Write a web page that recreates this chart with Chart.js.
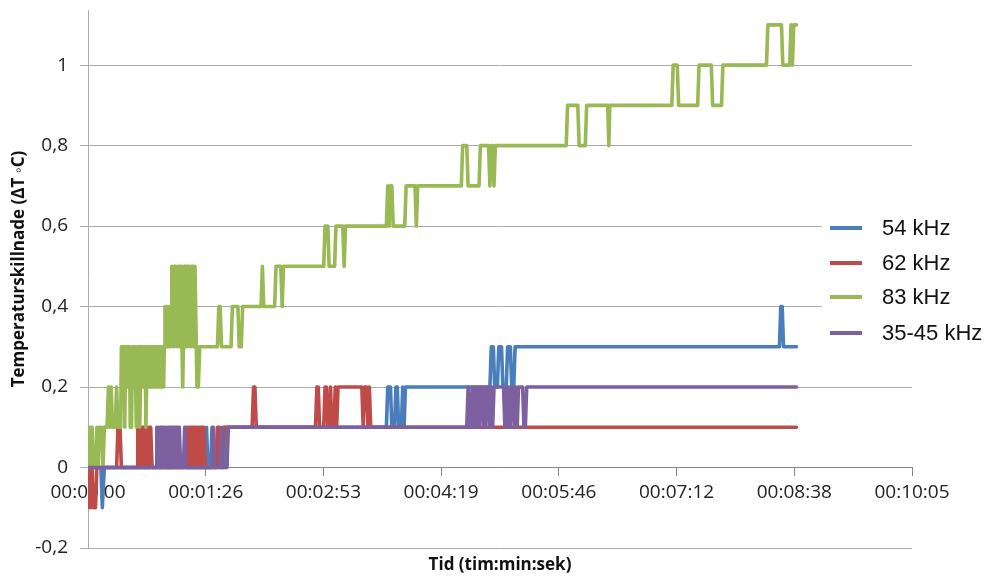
<!DOCTYPE html>
<html lang="sv">
<head>
<meta charset="UTF-8">
<title>Temperaturskillnad</title>
<script src="https://cdn.jsdelivr.net/npm/chart.js"></script>
<style>
  body { margin: 0; background: #fff; }
  #wrap { width: 995px; height: 577px; }
</style>
</head>
<body>
<div id="wrap"><canvas id="tempChart" width="995" height="577"></canvas></div>
<script>
// tick positions (seconds) and labels for the time axis
var xTickVals = [0, 86.4, 172.8, 259.2, 345.6, 432, 518.4, 604.8];
var xTickLabels = ['00:00:00', '00:01:26', '00:02:53', '00:04:19', '00:05:46', '00:07:12', '00:08:38', '00:10:05'];
var yTickVals = [-0.2, 0, 0.2, 0.4, 0.6, 0.8, 1];
var yTickLabels = ['-0,2', '0', '0,2', '0,4', '0,6', '0,8', '1'];

var seriesNames = ['54 kHz', '62 kHz', '83 kHz', '35-45 kHz'];
var seriesColors = ['#4A7EBB', '#BE4B48', '#98B954', '#7D60A0'];

// [time in s, temperature difference]
var s54 = [[0,0],[9.5,0],[10.5,-0.1],[12,0],[86,0],[87,0.1],[88,0],[90,0],[91,0.1],[92,0],[95,0],[96,0.1],[97,0],
  [99.5,0],[100.5,0.1],[101.5,0],[102.5,0.1],[219,0.1],[220,0.2],[222,0.2],[223,0.1],[225,0.1],[226,0.2],[227,0.2],
  [228,0.1],[230,0.1],[231,0.2],[232,0.1],[233,0.2],[295,0.2],[296,0.3],[297.5,0.3],[298.5,0.2],[300.5,0.2],[301.5,0.3],
  [303.5,0.3],[304.5,0.2],[307,0.2],[308,0.3],[310,0.3],[311,0.2],[312.5,0.2],[313.5,0.3],[507.5,0.3],[508.5,0.4],
  [509.5,0.4],[510.5,0.3],[520,0.3]];

var s62 = [[0,-0.1],[1,0],[2,-0.1],[3,0],[4,-0.1],[5.5,-0.1],[6.5,0],[21,0],[22,0.1],[23.5,0.1],[24.5,0],
  [36,0],[36.5,0.1],[37,0],[37.5,0.1],[38,0],[38.5,0.1],[39,0],[39.5,0.1],[40,0.1],[40.5,0],[41,0.1],[41.5,0],[42,0.1],
  [42.5,0],[43,0.1],[43.5,0],[44,0.1],[44.5,0],[45,0.1],[45.5,0],[46,0.1],[47,0],
  [71,0],[71.5,0.1],[72,0],[72.5,0.1],[73,0],[73.5,0.1],[74,0.1],[74.5,0],[75,0.1],[75.5,0],[76,0.1],[76.5,0],[77,0.1],
  [77.5,0],[78,0.1],[78.5,0],[79,0.1],[79.5,0],[80,0.1],[80.5,0],[81,0.1],[81.5,0],[82,0.1],[82.5,0],[83,0.1],[83.5,0],
  [84,0.1],[84.5,0],[85,0.1],[86,0],[94,0],[95,0.1],[96,0.1],[97,0],
  [98.5,0],[99.5,0.1],[120.5,0.1],[121.5,0.2],[122.5,0.2],[123.5,0.1],[167,0.1],[168,0.2],[169,0.2],[170,0.1],[173,0.1],
  [174,0.2],[175,0.2],[176,0.1],[177,0.1],[178,0.2],[179,0.1],[180.5,0.1],[181.5,0.2],[182.5,0.1],[183.5,0.2],[201,0.2],
  [202,0.1],[203,0.2],[204.5,0.2],[205.5,0.1],[206.5,0.2],[207.5,0.1],[520,0.1]];

var s83 = [[0,0],[1,0],[1.5,0.1],[3,0.1],[3.7,0],[5.5,0],[6.5,0.1],[7.5,0],[8.5,0.1],[10,0.1],[11,0],[12,0.1],[14,0.1],
  [15,0.2],[16,0.1],[17,0.2],[18,0.1],[20,0.1],[21,0.2],[22,0.1],
  [24,0.1],[24.5,0.3],[25,0.2],[25.5,0.3],[26,0.2],[26.5,0.3],[27,0.1],[27.5,0.3],[28,0.2],[28.5,0.3],[29,0.2],[29.5,0.3],
  [30,0.2],[30.5,0.3],[31,0.1],[31.5,0.2],[32,0.1],[32.5,0.3],[33,0.2],[33.5,0.3],[34,0.2],[34.5,0.3],[35,0.2],[35.5,0.1],
  [36,0.2],[36.5,0.3],[37,0.2],[37.5,0.3],[38,0.1],[38.5,0.2],[39,0.3],[39.5,0.2],[40,0.3],[40.5,0.2],[41,0.3],[41.5,0.2],
  [42,0.3],[42.5,0.1],[43,0.2],[43.5,0.3],[44,0.2],[44.5,0.3],[45,0.2],[45.5,0.3],[46,0.2],[46.5,0.3],[47,0.2],[47.5,0.3],
  [48,0.2],[48.5,0.3],[49,0.2],[49.5,0.3],[50,0.2],[50.5,0.3],[51,0.2],[51.5,0.3],[52,0.2],[52.5,0.3],[53,0.2],[53.5,0.3],
  [54,0.2],[54.5,0.3],[55,0.3],[55.5,0.2],[56,0.3],
  [56.5,0.4],[57,0.3],[57.5,0.4],[58,0.3],[58.5,0.4],[59,0.3],[59.5,0.4],[60,0.4],[60.5,0.3],[61,0.4],[61.5,0.5],[62,0.4],
  [62.5,0.3],[63,0.4],[63.5,0.5],[64,0.4],[64.5,0.5],[65,0.3],[65.5,0.4],[66,0.5],[66.5,0.4],[67,0.3],[67.5,0.5],[68,0.4],
  [68.5,0.5],[69,0.3],[69.5,0.2],[70,0.3],[70.5,0.5],[71,0.4],[71.5,0.5],[72,0.3],[72.5,0.5],[73,0.4],[73.5,0.5],[74,0.4],
  [74.5,0.5],[75,0.3],[75.5,0.4],[76,0.5],[76.5,0.4],[77,0.5],[77.5,0.3],[78,0.4],[78.5,0.5],[79,0.4],[79.5,0.3],[80,0.2],
  [80.5,0.3],[81,0.2],[82,0.3],
  [95,0.3],[96,0.4],[97,0.4],[98,0.3],[105,0.3],[106,0.4],[110,0.4],[111,0.3],[112.5,0.3],[113.5,0.4],[127,0.4],
  [128,0.5],[129,0.4],[137,0.4],[138,0.5],[141.5,0.5],[142.5,0.4],[143.5,0.5],[173,0.5],[174,0.6],[176,0.6],[177,0.5],
  [181,0.5],[182,0.6],[187,0.6],[188,0.5],[189,0.6],[219,0.6],[220,0.7],[221,0.6],[222,0.7],[223,0.7],[224,0.6],
  [232.5,0.6],[233.5,0.7],[240,0.7],[241,0.6],[242,0.7],[274,0.7],[275,0.8],[278,0.8],[279,0.7],[287,0.7],[288,0.8],
  [294,0.8],[295,0.7],[296,0.8],[297,0.8],[298,0.7],[299,0.8],[351,0.8],[352,0.9],[359.5,0.9],[360.5,0.8],[365,0.8],
  [366,0.9],[381.5,0.9],[382.3,0.8],[383,0.9],[428.5,0.9],[429.5,1.0],[432.5,1.0],[433.5,0.9],[447.5,0.9],[448.5,1.0],
  [457.5,1.0],[458.5,0.9],[465,0.9],[466,1.0],[498,1.0],[499,1.1],[509,1.1],[510,1.0],[515,1.0],[516,1.1],[517,1.0],
  [518,1.1],[520,1.1]];

var s3545 = [[0,0],[50,0],[50.5,0.1],[51,0],[51.5,0.1],[52,0.1],[52.5,0],[53,0.1],[53.5,0],[54,0.1],[54.5,0],[55,0.1],
  [55.5,0],[56,0.1],[56.5,0.1],[57,0],[57.5,0.1],[58,0],[58.5,0.1],[59,0],[59.5,0.1],[60,0],[60.5,0.1],[61,0],[61.5,0.1],
  [62,0],[62.5,0.1],[63,0],[63.5,0.1],[64,0.1],[64.5,0],[65,0.1],[65.5,0],[66,0.1],[66.5,0],[67,0.1],[68,0],
  [70,0],[71,0.1],[72,0],[91,0],[92,0.1],[93,0],[97,0],[98,0.1],
  [99,0],[102,0],[103,0.1],[278,0.1],[279,0.2],[280,0.1],[281,0.1],[282,0.2],[283,0.1],[284,0.2],[285,0.1],[286,0.2],
  [287,0.1],[288,0.2],[289,0.2],[290,0.1],[291,0.2],[292,0.1],[293,0.2],[294,0.2],[295,0.1],[296,0.2],[297,0.1],[298,0.2],
  [305,0.2],[306,0.1],[307,0.2],[308,0.1],[309,0.2],[310,0.1],[311,0.2],[312,0.2],[313,0.1],[314,0.2],[315,0.1],[316,0.2],
  [319,0.2],[320,0.1],[321,0.1],[322,0.2],[520,0.2]];

var allSeries = [s54, s62, s83, s3545];

var tickFont = { family: "'Open Sans', sans-serif", size: 19 };

function toPoints(arr) {
    return arr.map(function (p) { return { x: p[0], y: p[1] }; });
}

// legend box over the plot + both axis titles
var overlayPlugin = {
    id: 'overlay',
    afterDraw: function (chart) {
        var ctx = chart.ctx;
        var area = chart.chartArea;
        ctx.save();
        ctx.fillStyle = '#fff';
        ctx.fillRect(822, 208, 173, 144);
        ctx.font = "22px 'Liberation Sans', Arial, sans-serif";
        ctx.textBaseline = 'middle';
        ctx.textAlign = 'left';
        var rows = [228, 263, 297, 333];
        for (var i = 0; i < seriesNames.length; i++) {
            ctx.strokeStyle = seriesColors[i];
            ctx.lineWidth = 4;
            ctx.beginPath();
            ctx.moveTo(830, rows[i]);
            ctx.lineTo(862, rows[i]);
            ctx.stroke();
            ctx.fillStyle = '#111';
            ctx.fillText(seriesNames[i], 882, rows[i] + 1);
        }

        ctx.fillStyle = '#111';
        ctx.font = "bold 17px 'Open Sans', sans-serif";
        ctx.textAlign = 'center';
        ctx.fillText('Tid (tim:min:sek)', (area.left + area.right) / 2, 565);

        ctx.translate(19, (area.top + area.bottom) / 2 - 10);
        ctx.rotate(-Math.PI / 2);
        ctx.fillText('Temperaturskillnade (\u0394T \u25E6C)', 0, 0);
        ctx.restore();
    }
};

var datasets = allSeries.map(function (s, i) {
    return {
        label: seriesNames[i],
        data: toPoints(s),
        borderColor: seriesColors[i],
        backgroundColor: seriesColors[i],
        borderWidth: 3.6,
        pointRadius: 0,
        tension: 0,
        fill: false,
        borderJoinStyle: 'round',
        borderCapStyle: 'round',
        order: seriesNames.length - i   // later series drawn on top
    };
});

var ctx = document.getElementById('tempChart').getContext('2d');
var myChart = new Chart(ctx, {
    type: 'line',
    data: { datasets: datasets },
    plugins: [overlayPlugin],
    options: {
        responsive: false,
        animation: false,
        parsing: false,
        layout: { padding: { left: 0, top: 10, right: 83, bottom: 29 } },
        plugins: {
            legend: { display: false },
            tooltip: { enabled: false }
        },
        scales: {
            x: {
                type: 'linear',
                min: 0,
                max: 604.8,
                position: { y: 0 },
                afterBuildTicks: function (scale) {
                    scale.ticks = xTickVals.map(function (v) { return { value: v }; });
                },
                ticks: {
                    autoSkip: false,
                    maxRotation: 0,
                    padding: 6,
                    color: '#222',
                    font: tickFont,
                    callback: function (v, i) { return xTickLabels[i]; }
                },
                grid: { drawOnChartArea: false, drawTicks: true, tickLength: 8, color: '#868686' },
                border: { display: true, color: '#868686' }
            },
            y: {
                type: 'linear',
                min: -0.2,
                max: 1.137,
                afterBuildTicks: function (scale) {
                    scale.ticks = yTickVals.map(function (v) { return { value: v }; });
                },
                afterFit: function (scale) {
                    scale.width = 88;
                    scale.paddingTop = 0;
                    scale.paddingBottom = 0;
                },
                ticks: {
                    padding: 12,
                    color: '#222',
                    font: tickFont,
                    callback: function (v, i) { return yTickLabels[i]; }
                },
                grid: { color: '#ababab', tickLength: 8, drawTicks: true },
                border: { display: true, color: '#ababab' }
            }
        }
    }
});
</script>
</body>
</html>
